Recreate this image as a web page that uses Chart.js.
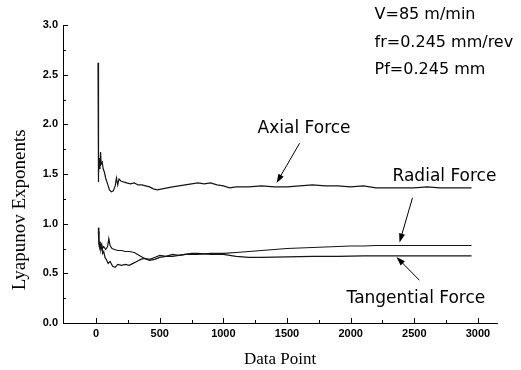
<!DOCTYPE html>
<html>
<head>
<meta charset="utf-8">
<script src="https://cdn.jsdelivr.net/npm/chart.js@4"></script>
<style>
  html, body { margin: 0; background: #fff; }
</style>
</head>
<body>
<canvas id="myChart" width="521" height="370"></canvas>
<script>
// data
let axialX = [15, 16, 19, 22, 26, 30, 35, 40, 48, 56, 65, 75, 90, 105, 120, 135, 150, 160, 170, 180, 195, 215, 240, 270, 300, 330, 360, 390, 420, 450, 480, 520, 560, 600, 650, 700, 750, 800, 850, 900, 950, 1000, 1050, 1100, 1200, 1300, 1400, 1500, 1600, 1700, 1800, 1900, 2000, 2100, 2200, 2300, 2400, 2500, 2600, 2700, 2800, 2950]
let axialY = [2.62, 1.42, 1.58, 1.50, 1.66, 1.55, 1.72, 1.60, 1.62, 1.55, 1.52, 1.46, 1.40, 1.34, 1.32, 1.33, 1.38, 1.46, 1.39, 1.45, 1.43, 1.42, 1.41, 1.40, 1.41, 1.39, 1.39, 1.38, 1.37, 1.35, 1.34, 1.35, 1.36, 1.37, 1.38, 1.39, 1.40, 1.41, 1.40, 1.41, 1.39, 1.38, 1.36, 1.37, 1.37, 1.38, 1.37, 1.37, 1.38, 1.39, 1.38, 1.38, 1.37, 1.38, 1.36, 1.36, 1.36, 1.36, 1.37, 1.36, 1.36, 1.36]

let radialX = [18, 22, 27, 32, 38, 45, 52, 60, 70, 80, 95, 110, 130, 150, 170, 200, 230, 260, 290, 320, 350, 380, 420, 460, 500, 550, 600, 650, 700, 800, 900, 1000, 1100, 1200, 1300, 1400, 1500, 1600, 1700, 1800, 1900, 2000, 2100, 2200, 2300, 2400, 2500, 2700, 2950]
let radialY = [0.96, 0.82, 0.76, 0.79, 0.74, 0.78, 0.70, 0.72, 0.66, 0.64, 0.60, 0.62, 0.57, 0.56, 0.59, 0.58, 0.59, 0.58, 0.60, 0.62, 0.64, 0.65, 0.63, 0.64, 0.66, 0.67, 0.67, 0.68, 0.69, 0.69, 0.70, 0.70, 0.71, 0.72, 0.73, 0.74, 0.75, 0.755, 0.76, 0.765, 0.77, 0.775, 0.775, 0.78, 0.78, 0.78, 0.78, 0.78, 0.78]

let tangX = [18, 22, 26, 30, 36, 42, 50, 60, 75, 90, 100, 110, 125, 145, 170, 200, 230, 260, 300, 340, 380, 420, 460, 500, 550, 600, 650, 700, 750, 800, 900, 1000, 1100, 1200, 1300, 1500, 1700, 1900, 2100, 2300, 2500, 2700, 2950]
let tangY = [0.92, 0.80, 0.77, 0.82, 0.76, 0.79, 0.75, 0.77, 0.74, 0.77, 0.85, 0.78, 0.75, 0.74, 0.73, 0.73, 0.72, 0.72, 0.71, 0.68, 0.65, 0.64, 0.66, 0.68, 0.67, 0.69, 0.68, 0.69, 0.70, 0.70, 0.69, 0.69, 0.67, 0.66, 0.66, 0.665, 0.67, 0.67, 0.675, 0.675, 0.675, 0.675, 0.675]

let xTicks = [0, 500, 1000, 1500, 2000, 2500, 3000]
let xMinor = [250, 750, 1250, 1750, 2250, 2750]
let yTicks = [0, 0.5, 1.0, 1.5, 2.0, 2.5, 3.0]
let yMinor = [0.25, 0.75, 1.25, 1.75, 2.25, 2.75]

let yTitle = 'Lyapunov Exponents'
let infoLines = ['V=85 m/min', 'fr=0.245 mm/rev', 'Pf=0.245 mm']

// text labels and arrows, placed in data units
let notes = [
    { text: 'Axial Force', x: 1269, y: 1.96, size: 17 },
    { text: 'Radial Force', x: 2329, y: 1.47, size: 17 },
    { text: 'Tangential Force', x: 1968, y: 0.25, size: 17 },
    { text: infoLines[0], x: 2188, y: 3.10, size: 16 },
    { text: infoLines[1], x: 2188, y: 2.82, size: 16 },
    { text: infoLines[2], x: 2188, y: 2.55, size: 16 }
]
let arrows = [
    { from: [1599, 1.81], to: [1418, 1.41] },
    { from: [2486, 1.26], to: [2384, 0.81] },
    { from: [2541, 0.43], to: [2360, 0.665] }
]

function toPoints(xs, ys) {
    return xs.map((x, i) => ({ x: x, y: ys[i] }))
}

let lineStyle = {
    borderColor: '#151515',
    borderWidth: 1.2,
    pointRadius: 0,
    tension: 0,
    fill: false
}

let extras = {
    id: 'extras',
    afterDraw(chart) {
        let ctx = chart.ctx
        let xs = chart.scales.x
        let ys = chart.scales.y
        let area = chart.chartArea
        ctx.save()
        ctx.strokeStyle = '#000'
        ctx.fillStyle = '#000'
        ctx.lineWidth = 1

        // inward tick marks
        function tick(x1, y1, x2, y2) {
            ctx.beginPath()
            ctx.moveTo(x1, y1)
            ctx.lineTo(x2, y2)
            ctx.stroke()
        }
        yTicks.forEach(v => { let p = Math.round(ys.getPixelForValue(v)) + 0.5; tick(area.left, p, area.left + 5, p) })
        yMinor.forEach(v => { let p = Math.round(ys.getPixelForValue(v)) + 0.5; tick(area.left, p, area.left + 3, p) })
        xTicks.forEach(v => { let p = Math.round(xs.getPixelForValue(v)) + 0.5; tick(p, area.bottom, p, area.bottom - 5) })
        xMinor.forEach(v => { let p = Math.round(xs.getPixelForValue(v)) + 0.5; tick(p, area.bottom, p, area.bottom - 3) })

        // y axis title, a bit below the middle as in the scan
        ctx.save()
        ctx.translate(20, ys.getPixelForValue(1.14))
        ctx.rotate(-Math.PI / 2)
        ctx.font = '19px "Liberation Serif"'
        ctx.textAlign = 'center'
        ctx.textBaseline = 'middle'
        ctx.fillText(yTitle, 0, 0)
        ctx.restore()

        // annotations
        ctx.textAlign = 'left'
        ctx.textBaseline = 'middle'
        notes.forEach(n => {
            ctx.font = n.size + 'px "DejaVu Sans"'
            ctx.fillText(n.text, xs.getPixelForValue(n.x), ys.getPixelForValue(n.y))
        })

        arrows.forEach(a => {
            let x1 = xs.getPixelForValue(a.from[0]), y1 = ys.getPixelForValue(a.from[1])
            let x2 = xs.getPixelForValue(a.to[0]), y2 = ys.getPixelForValue(a.to[1])
            let ang = Math.atan2(y2 - y1, x2 - x1)
            tick(x1, y1, x2 - 4 * Math.cos(ang), y2 - 4 * Math.sin(ang))
            ctx.beginPath()
            ctx.moveTo(x2, y2)
            ctx.lineTo(x2 - 9 * Math.cos(ang) + 3 * Math.sin(ang), y2 - 9 * Math.sin(ang) - 3 * Math.cos(ang))
            ctx.lineTo(x2 - 9 * Math.cos(ang) - 3 * Math.sin(ang), y2 - 9 * Math.sin(ang) + 3 * Math.cos(ang))
            ctx.closePath()
            ctx.fill()
        })
        ctx.restore()
    }
}

let ctx = document.getElementById('myChart').getContext('2d')
new Chart(ctx, {
    type: 'line',
    data: {
        datasets: [
            Object.assign({ label: 'Axial Force', data: toPoints(axialX, axialY) }, lineStyle),
            Object.assign({ label: 'Radial Force', data: toPoints(radialX, radialY) }, lineStyle),
            Object.assign({ label: 'Tangential Force', data: toPoints(tangX, tangY) }, lineStyle)
        ]
    },
    options: {
        responsive: false,
        animation: false,
        layout: { padding: { top: 25, right: 24, left: 0, bottom: 0 } },
        plugins: {
            legend: { display: false },
            tooltip: { enabled: false }
        },
        scales: {
            x: {
                type: 'linear',
                min: -260,
                max: 3150,
                grid: { display: false, drawTicks: false },
                border: { display: true, color: '#000', width: 1 },
                afterBuildTicks: s => { s.ticks = xTicks.map(v => ({ value: v })) },
                afterFit: s => { s.height = 47 },
                ticks: {
                    color: '#000',
                    padding: 4,
                    maxRotation: 0,
                    font: { family: 'Liberation Sans', size: 11, weight: 'bold' },
                    callback: v => String(v)
                },
                title: {
                    display: true,
                    text: 'Data Point',
                    color: '#000',
                    padding: 0,
                    font: { family: 'Liberation Serif', size: 17 }
                }
            },
            y: {
                type: 'linear',
                min: 0,
                max: 3,
                grid: { display: false, drawTicks: false },
                border: { display: true, color: '#000', width: 1 },
                afterBuildTicks: s => { s.ticks = yTicks.map(v => ({ value: v })) },
                afterFit: s => { s.width = 63 },
                ticks: {
                    color: '#000',
                    padding: 5,
                    font: { family: 'Liberation Sans', size: 11, weight: 'bold' },
                    callback: v => v.toFixed(1)
                }
            }
        }
    },
    plugins: [extras]
})
</script>
</body>
</html>
